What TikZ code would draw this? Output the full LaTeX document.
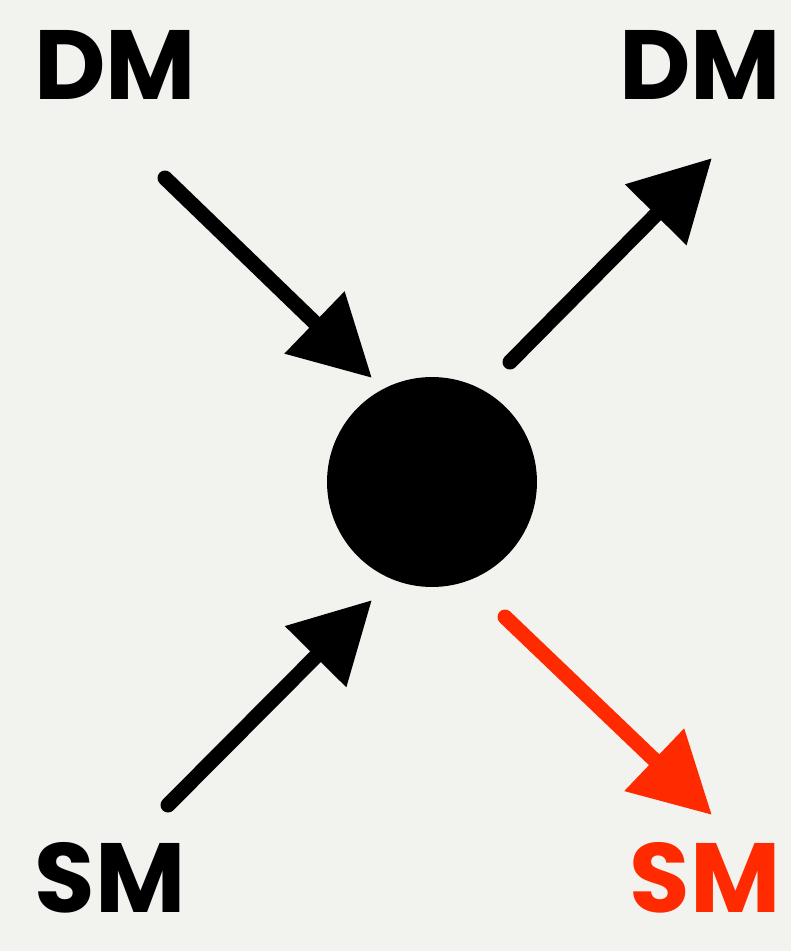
\documentclass[tikz,border=0pt]{standalone}
\usepackage{fontspec}
\setmainfont{Poppins}
\usetikzlibrary{arrows.meta}
\definecolor{paper}{HTML}{F2F2EF}
\definecolor{smred}{HTML}{FF2A00}
\begin{document}
\begin{tikzpicture}[
    x=0.02cm, y=-0.02cm,
    lbl/.style={font=\bfseries\fontsize{56}{56}\selectfont, inner sep=0pt, anchor=center},
    vtx/.style={circle, fill=black, minimum size=4.2cm, inner sep=0pt},
    arr/.style={line width=0.3cm, line cap=round, -{Triangle[length=1.6cm,width=1.65cm]}},
]
\fill[paper] (0,0) rectangle (791,951);

\node[lbl] (dmin) at (115,65) {DM};
\node[lbl] (dmout) at (700,65) {DM};
\node[lbl] (smin) at (110,878) {SM};
\node[lbl, text=smred] (smout) at (705,878) {SM};
\node[vtx] (vertex) at (432,482) {};

\coordinate (dmtail) at (165,178);
\coordinate (dmtip) at (372,378);
\coordinate (dmotail) at (510,362);
\coordinate (dmotip) at (712,158);
\coordinate (smtail) at (168,805);
\coordinate (smtip) at (372,600);
\coordinate (smotail) at (505,617);
\coordinate (smotip) at (712,815);

\foreach \a/\b in {dmtail/dmtip, dmotail/dmotip, smtail/smtip}
  \draw[arr] (\a) -- (\b);
\draw[arr, smred] (smotail) -- (smotip);

\end{tikzpicture}
\end{document}
